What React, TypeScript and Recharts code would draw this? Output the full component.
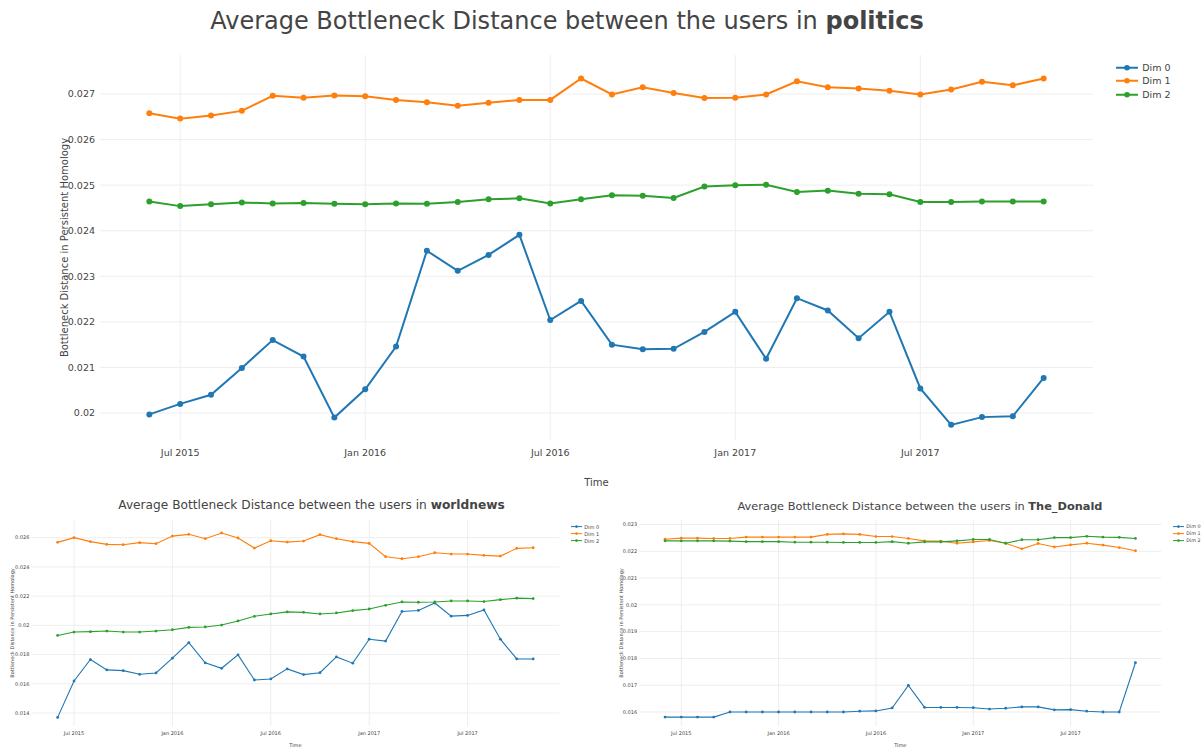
import { LineChart, Line, XAxis, YAxis, CartesianGrid, Legend } from "recharts";

// monthly snapshots, Jun 2015 .. Nov 2017
const months = [
  "2015-06", "2015-07", "2015-08", "2015-09", "2015-10", "2015-11", "2015-12",
  "2016-01", "2016-02", "2016-03", "2016-04", "2016-05", "2016-06", "2016-07",
  "2016-08", "2016-09", "2016-10", "2016-11", "2016-12", "2017-01", "2017-02",
  "2017-03", "2017-04", "2017-05", "2017-06", "2017-07", "2017-08", "2017-09",
  "2017-10", "2017-11",
];
const tickMonths = ["2015-07", "2016-01", "2016-07", "2017-01", "2017-07"];
const tickLabels = ["Jul 2015", "Jan 2016", "Jul 2016", "Jan 2017", "Jul 2017"];
const dimNames = ["Dim 0", "Dim 1", "Dim 2"];

const politicsDim0 = [0.01997, 0.0202, 0.0204, 0.02099, 0.0216, 0.02124, 0.0199, 0.02052, 0.02146, 0.02356, 0.02312, 0.02347, 0.02391, 0.02204, 0.02246, 0.0215, 0.0214, 0.02141, 0.02178, 0.02222, 0.02119, 0.02252, 0.02225, 0.02164, 0.02222, 0.02054, 0.01974, 0.01991, 0.01993, 0.02077];
const politicsDim1 = [0.02658, 0.02646, 0.02653, 0.02663, 0.02696, 0.02692, 0.02697, 0.02695, 0.02687, 0.02682, 0.02674, 0.02681, 0.02687, 0.02687, 0.02734, 0.02699, 0.02715, 0.02702, 0.02691, 0.02692, 0.02699, 0.02728, 0.02715, 0.02712, 0.02707, 0.02699, 0.0271, 0.02727, 0.02719, 0.02734];
const politicsDim2 = [0.02464, 0.02454, 0.02458, 0.02462, 0.0246, 0.02461, 0.02459, 0.02458, 0.0246, 0.02459, 0.02463, 0.02469, 0.02471, 0.0246, 0.02469, 0.02478, 0.02477, 0.02472, 0.02497, 0.025, 0.02501, 0.02485, 0.02488, 0.02481, 0.0248, 0.02463, 0.02463, 0.02464, 0.02464, 0.02464];

const worldnewsDim0 = [0.0137, 0.01619, 0.01766, 0.01695, 0.0169, 0.01665, 0.01674, 0.01775, 0.01882, 0.01743, 0.01706, 0.01798, 0.01626, 0.01633, 0.01702, 0.01663, 0.01676, 0.01784, 0.01741, 0.01905, 0.01892, 0.02095, 0.02102, 0.02153, 0.02063, 0.02068, 0.02105, 0.01905, 0.0177, 0.0177];
const worldnewsDim1 = [0.02568, 0.026, 0.02573, 0.02554, 0.02552, 0.02566, 0.02559, 0.02611, 0.02623, 0.02593, 0.02632, 0.02598, 0.02529, 0.02579, 0.0257, 0.02577, 0.02621, 0.02593, 0.02573, 0.02561, 0.0247, 0.02456, 0.0247, 0.02497, 0.02488, 0.02488, 0.02479, 0.02474, 0.02527, 0.02531];
const worldnewsDim2 = [0.01931, 0.01954, 0.01957, 0.01961, 0.01954, 0.01954, 0.01961, 0.0197, 0.01986, 0.01989, 0.02002, 0.0203, 0.02062, 0.02078, 0.02092, 0.02089, 0.02078, 0.02085, 0.02101, 0.02112, 0.02137, 0.0216, 0.02158, 0.0216, 0.02167, 0.02167, 0.02163, 0.02176, 0.02186, 0.02183];

const donaldDim0 = [0.01581, 0.01581, 0.01581, 0.01581, 0.016, 0.016, 0.016, 0.016, 0.016, 0.016, 0.016, 0.016, 0.01603, 0.01604, 0.01615, 0.01699, 0.01617, 0.01617, 0.01617, 0.01616, 0.01611, 0.01614, 0.01619, 0.01619, 0.01608, 0.01609, 0.01603, 0.016, 0.016, 0.01784];
const donaldDim1 = [0.02245, 0.02249, 0.02249, 0.02248, 0.02248, 0.02253, 0.02253, 0.02253, 0.02253, 0.02253, 0.02263, 0.02265, 0.02263, 0.02255, 0.02255, 0.02248, 0.02239, 0.02238, 0.0223, 0.02235, 0.0224, 0.0223, 0.02209, 0.02229, 0.02216, 0.02224, 0.0223, 0.02223, 0.02214, 0.02202];
const donaldDim2 = [0.02239, 0.02239, 0.02239, 0.02239, 0.02238, 0.02236, 0.02236, 0.02236, 0.02234, 0.02234, 0.02234, 0.02233, 0.02233, 0.02233, 0.02236, 0.0223, 0.02235, 0.02235, 0.02239, 0.02244, 0.02244, 0.0223, 0.02243, 0.02243, 0.02251, 0.02251, 0.02256, 0.02253, 0.02252, 0.02248];

const politicsTicks = [0.02, 0.021, 0.022, 0.023, 0.024, 0.025, 0.026, 0.027];
const worldnewsTicks = [0.014, 0.016, 0.018, 0.02, 0.022, 0.024, 0.026];
const donaldTicks = [0.016, 0.017, 0.018, 0.019, 0.02, 0.021, 0.022, 0.023];

const colors = ["#1f77b4", "#ff7f0e", "#2ca02c"];
const ink = "#444";
const font = "'DejaVu Sans', Verdana, sans-serif";

const rows = (d0: number[], d1: number[], d2: number[]) =>
  months.map((m, i) => ({ i, month: m, d0: d0[i], d1: d1[i], d2: d2[i] }));
const tickIdx = tickMonths.map((m) => months.indexOf(m));
const fmtX = (v: number) => tickLabels[tickIdx.indexOf(v)] ?? "";
const fmtY = (v: number) => String(+v.toFixed(3));

type LegendCfg = { left: number; top: number; rowH: number; lineW: number; size: number; r: number; sw: number };

function DimLegend({ payload, cfg }: any) {
  const c: LegendCfg = cfg;
  return (
    <div style={{ fontFamily: font, fontSize: c.size, color: ink }}>
      {(payload || []).map((p: any) => (
        <div key={p.value} style={{ display: "flex", alignItems: "center", height: c.rowH, whiteSpace: "nowrap" }}>
          <svg width={c.lineW} height={c.rowH} style={{ marginRight: c.size * 0.45 }}>
            <line x1={0} x2={c.lineW} y1={c.rowH / 2} y2={c.rowH / 2} stroke={p.color} strokeWidth={c.sw} />
            <circle cx={c.lineW / 2} cy={c.rowH / 2} r={c.r} fill={p.color} />
          </svg>
          <span>{p.value}</span>
        </div>
      ))}
    </div>
  );
}

type PanelProps = {
  left: number; top: number; width: number; height: number;
  data: any[]; yDomain: [number, number]; yTicks: number[];
  plotLeft: number; plotRight: number; plotTop: number; plotBottom: number;
  yAxisW: number; xAxisH: number; tickSize: number; tickGapY: number; tickGapX: number;
  labelSize: number; yLabelOffset: number; xLabelOffset: number;
  dotR: number; strokeW: number; legend: LegendCfg;
};

function Panel(p: PanelProps) {
  const margin = {
    top: p.plotTop,
    left: p.plotLeft - p.yAxisW,
    right: p.width - p.plotRight,
    bottom: p.height - p.plotBottom - p.xAxisH,
  };
  const tick = { fill: ink, fontSize: p.tickSize, fontFamily: font };
  return (
    <div style={{ position: "absolute", left: p.left, top: p.top }}>
      <LineChart width={p.width} height={p.height} data={p.data} margin={margin}>
        <CartesianGrid stroke="#eee" strokeWidth={1} horizontalValues={p.yTicks} verticalValues={tickIdx} />
        <XAxis
          dataKey="i" type="number" domain={[-1.6, 30.6]} allowDataOverflow ticks={tickIdx} interval={0}
          tickFormatter={fmtX} height={p.xAxisH} axisLine={false} tickLine={false} tickSize={0}
          tickMargin={p.tickGapX} tick={tick}
          label={{ value: "Time", position: "insideBottom", offset: p.xLabelOffset, fill: ink, fontSize: p.labelSize, fontFamily: font }}
        />
        <YAxis
          type="number" domain={p.yDomain} allowDataOverflow ticks={p.yTicks} interval={0}
          tickFormatter={fmtY} width={p.yAxisW} axisLine={false} tickLine={false} tickSize={0}
          tickMargin={p.tickGapY} tick={tick}
          label={{
            value: "Bottleneck Distance in Persistent Homology", angle: -90, position: "insideLeft",
            offset: p.yLabelOffset, fill: ink, fontSize: p.labelSize, fontFamily: font, style: { textAnchor: "middle" },
          }}
        />
        <Legend
          layout="vertical" align="center" verticalAlign="middle"
          wrapperStyle={{ left: p.legend.left, top: p.legend.top, width: "auto", height: "auto" }}
          content={(props: any) => <DimLegend payload={props.payload} cfg={p.legend} />}
        />
        {["d0", "d1", "d2"].map((k, j) => (
          <Line
            key={k} dataKey={k} name={dimNames[j]} type="linear" stroke={colors[j]} strokeWidth={p.strokeW}
            dot={{ r: p.dotR, fill: colors[j], stroke: colors[j], strokeWidth: 0 }} activeDot={false}
            isAnimationActive={false}
          />
        ))}
      </LineChart>
    </div>
  );
}

function Title({ cx, cy, size, sub }: { cx: number; cy: number; size: number; sub: string }) {
  return (
    <div
      style={{
        position: "absolute", left: cx - 400, width: 800, top: cy - size, lineHeight: `${size * 2}px`,
        textAlign: "center", fontFamily: font, fontSize: size, color: ink, whiteSpace: "nowrap",
      }}
    >
      Average Bottleneck Distance between the users in <b>{sub}</b>
    </div>
  );
}

export default function App() {
  return (
    <div style={{ position: "absolute", left: 0, top: 0, width: 1202, height: 748, overflow: "hidden", background: "#fff" }}>
      <Title cx={567} cy={21} size={24} sub="politics" />
      <Panel
        left={0} top={0} width={1202} height={490} data={rows(politicsDim0, politicsDim1, politicsDim2)}
        yDomain={[0.019408, 0.027856]} yTicks={politicsTicks}
        plotLeft={100} plotRight={1093} plotTop={55} plotBottom={440}
        yAxisW={50} xAxisH={50} tickSize={9.5} tickGapY={5} tickGapX={9}
        labelSize={10} yLabelOffset={14} xLabelOffset={4} dotR={3} strokeW={2}
        legend={{ left: 1116, top: 60.5, rowH: 13.5, lineW: 22, size: 9.5, r: 2.8, sw: 2 }}
      />
      <Title cx={311.5} cy={505} size={12.2} sub="worldnews" />
      <Panel
        left={0} top={490} width={600} height={258} data={rows(worldnewsDim0, worldnewsDim1, worldnewsDim2)}
        yDomain={[0.01311, 0.027211]} yTicks={worldnewsTicks}
        plotLeft={31.4} plotRight={559.4} plotTop={30} plotBottom={236}
        yAxisW={30} xAxisH={22} tickSize={5} tickGapY={2} tickGapX={5}
        labelSize={5} yLabelOffset={11} xLabelOffset={1} dotR={1.4} strokeW={1.1}
        legend={{ left: 571, top: 33, rowH: 7.2, lineW: 11, size: 5, r: 1.3, sw: 1 }}
      />
      <Title cx={920} cy={506} size={11.35} sub="The_Donald" />
      <Panel
        left={600} top={490} width={602} height={258} data={rows(donaldDim0, donaldDim1, donaldDim2)}
        yDomain={[0.015477, 0.023168]} yTicks={donaldTicks}
        plotLeft={39.1} plotRight={561.4} plotTop={30} plotBottom={236}
        yAxisW={30} xAxisH={22} tickSize={5} tickGapY={2} tickGapX={5}
        labelSize={5} yLabelOffset={12} xLabelOffset={1} dotR={1.4} strokeW={1.1}
        legend={{ left: 573, top: 33, rowH: 7.2, lineW: 11, size: 4.8, r: 1.3, sw: 1 }}
      />
    </div>
  );
}
